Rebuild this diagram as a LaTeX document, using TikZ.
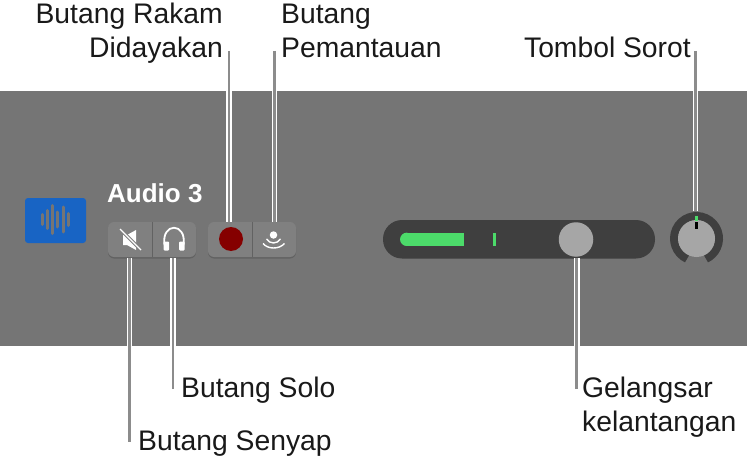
\documentclass[tikz,border=0pt]{standalone}
\usepackage{fontspec}
\setmainfont{Liberation Sans}
\definecolor{panelgray}{HTML}{757575}
\definecolor{wellgray}{HTML}{3F3F3F}
\definecolor{btngray}{HTML}{808080}
\definecolor{btnshade}{HTML}{626262}
\definecolor{knobgray}{HTML}{A6A6A6}
\definecolor{leadgray}{HTML}{8C8C8C}
\definecolor{metergreen}{HTML}{4CDB6A}
\definecolor{iconblue}{HTML}{1864C4}
\definecolor{recred}{HTML}{850000}
\tikzset{
  x=1pt, y=-1pt,
  leadcase/.style={draw=white, line width=5.6pt},
  leadcore/.style={draw=leadgray, line width=2.8pt},
  callout/.style={inner sep=0pt, font=\fontsize{28.3}{34}\selectfont, text=black!90},
  btnbox/.style={fill=btngray, rounded corners=6pt, minimum width=88pt, minimum height=35pt, inner sep=0pt},
  iconline/.style={draw=white, line width=1.4pt},
}
\begin{document}
\begin{tikzpicture}
  \useasboundingbox (0, 0) rectangle (747, 468);
  \fill[panelgray] (0, 91) rectangle (747, 346);

  % track icon
  \fill[iconblue, rounded corners=3pt] (25, 198) rectangle (86, 243);
  \foreach \x/\h in {42/5, 47/9, 52/14, 57/7.5, 63/12.5, 68/6} {
    \draw[panelgray, line width=3pt, line cap=round] (\x, 219.5-\h) -- (\x, 219.5+\h);
  }
  \node[inner sep=0pt, anchor=base west, text=white, font=\fontsize{26}{30}\bfseries\selectfont] (trackTitle) at (107, 202) {Audio 3};

  % buttons
  \fill[btnshade, rounded corners=6pt] (108, 223) rectangle (196, 258.5);
  \fill[btnshade, rounded corners=6pt] (208, 223) rectangle (296, 258.5);
  \node[btnbox] (muteSolo) at (152, 239.5) {};
  \node[btnbox] (recMon) at (252, 239.5) {};
  \draw[btnshade, line width=1pt] (muteSolo.north -| 152.5, 0) -- (muteSolo.south -| 152.5, 0);
  \draw[btnshade, line width=1pt] (recMon.north -| 252.7, 0) -- (recMon.south -| 252.7, 0);

  % mute
  \fill[white] (123, 235) -- (127, 235) -- (136, 230) -- (136, 250) -- (127, 245) -- (123, 245) -- cycle;
  \draw[btngray, line width=3.4pt] (120, 229) -- (141, 250);
  \draw[iconline] (120, 229) -- (141, 250);
  % headphones
  \draw[iconline, line width=1.8pt] (164.5, 245) .. controls (161, 222) and (187, 222) .. (183.5, 245);
  \fill[white, rounded corners=1pt] (163.5, 241.5) rectangle (169, 250.5);
  \fill[white, rounded corners=1pt] (179, 241.5) rectangle (184.5, 250.5);

  % record
  \node[circle, fill=recred, minimum size=24pt, inner sep=0pt] (recDot) at (231, 239) {};
  % monitor
  \node[circle, fill=white, minimum size=7.5pt, inner sep=0pt] (monDot) at (273.5, 235) {};
  \draw[iconline] (266.5, 239) .. controls (270, 244.3) and (277, 244.3) .. (280.5, 239);
  \draw[iconline] (263, 243.5) .. controls (268, 249.5) and (279, 249.5) .. (284.5, 243.5);

  % volume slider
  \fill[wellgray, rounded corners=19pt] (383, 220) rectangle (655, 258.5);
  \fill[metergreen] (406.7, 239.35) circle[radius=6.65];
  \fill[metergreen] (406.7, 232.7) rectangle (463.7, 246);
  \fill[metergreen] (493.3, 232.7) rectangle (495.5, 246);
  \node[circle, fill=knobgray, minimum size=34.5pt, inner sep=0pt] (sliderKnob) at (576, 239.5) {};

  % pan knob
  \draw[wellgray, line width=8pt] (687, 258.9) arc[start angle=115, end angle=425, radius=22.5];
  \node[circle, fill=knobgray, minimum size=37pt, inner sep=0pt] (panKnob) at (696.5, 238.5) {};
  \fill[metergreen] (695.3, 216) rectangle (698, 220.7);
  \fill[black] (695.3, 222) rectangle (698, 228.5);

  % callout labels
  \node[callout, anchor=base east] (recTextA) at (223, 24) {Butang Rakam};
  \node[callout, anchor=base east] (recText) at (223, 58) {Didayakan};
  \node[callout, anchor=base west] (monTextA) at (281, 24) {Butang};
  \node[callout, anchor=base west] (monText) at (281, 58) {Pemantauan};
  \node[callout, anchor=base east] (panText) at (691, 58) {Tombol Sorot};
  \node[callout, anchor=base west] (soloText) at (181, 397) {Butang Solo};
  \node[callout, anchor=base west] (muteText) at (138, 450) {Butang Senyap};
  \node[callout, anchor=base west] (volTextA) at (582, 397) {Gelangsar};
  \node[callout, anchor=base west] (volText) at (582, 431) {kelantangan};

  % leaders
  \coordinate (recTop) at (229, 51);
  \coordinate (recEnd) at (229, 222);
  \coordinate (monTop) at (274.5, 51);
  \coordinate (monEnd) at (274.5, 222);
  \coordinate (panTop) at (695.5, 51);
  \coordinate (panEnd) at (695.5, 211);
  \coordinate (muteBot) at (129.5, 441.7);
  \coordinate (muteEnd) at (129.5, 258);
  \coordinate (soloBot) at (173, 389);
  \coordinate (soloEnd) at (173, 258);
  \coordinate (volBot) at (576.7, 389);
  \coordinate (volEnd) at (576.7, 258);

  \begin{scope}
    \clip (0, 91) rectangle (747, 346);
    \foreach \a/\b in {recTop/recEnd, monTop/monEnd, panTop/panEnd, muteBot/muteEnd, soloBot/soloEnd, volBot/volEnd} {
      \draw[leadcase] (\a) -- (\b);
    }
  \end{scope}
  \foreach \a/\b in {recTop/recEnd, monTop/monEnd, panTop/panEnd, muteBot/muteEnd, soloBot/soloEnd, volBot/volEnd} {
    \draw[leadcore] (\a) -- (\b);
  }
\end{tikzpicture}
\end{document}
